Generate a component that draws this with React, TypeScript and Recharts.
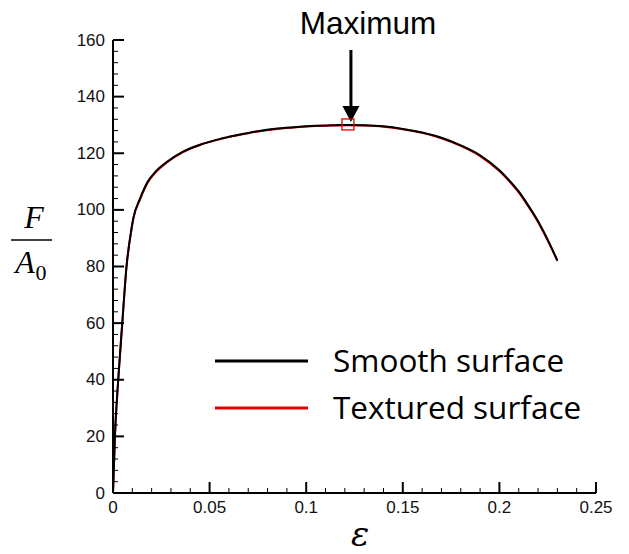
import React from 'react';
import { LineChart, Line, XAxis, YAxis, ReferenceDot } from 'recharts';

const strain = [0, 0.001, 0.0027, 0.0048, 0.007, 0.0095, 0.0105, 0.014, 0.018, 0.022, 0.028, 0.036, 0.045, 0.055, 0.065, 0.075, 0.085, 0.095, 0.105, 0.115, 0.122, 0.13, 0.14, 0.15, 0.16, 0.17, 0.18, 0.19, 0.2, 0.205, 0.21, 0.215, 0.22, 0.225, 0.23];
const stressSmooth = [0, 20, 40, 60, 80, 93, 97, 104, 110, 113.5, 117, 120.5, 123, 125, 126.5, 127.8, 128.7, 129.3, 129.7, 129.9, 130, 129.9, 129.5, 128.6, 127.3, 125.5, 122.8, 119.3, 114, 110.5, 106.5, 101.5, 96, 89.5, 82];
const stressTextured = [0, 20, 40, 60, 80, 92.8, 96.8, 103.7, 109.7, 113.2, 116.8, 120.3, 122.9, 124.9, 126.4, 127.7, 128.6, 129.2, 129.6, 129.8, 129.9, 129.8, 129.4, 128.5, 127.2, 125.3, 122.6, 119.0, 113.7, 110.2, 106.2, 101.2, 95.7, 89.2, 82.2];

const maxPoint = { x: 0.1216, y: 130 };

const xMajor = [0, 0.05, 0.1, 0.15, 0.2, 0.25];
const xMajorLabels = ['0', '0.05', '0.1', '0.15', '0.2', '0.25'];
const yMajor = [0, 20, 40, 60, 80, 100, 120, 140, 160];
const yMajorLabels = ['0', '20', '40', '60', '80', '100', '120', '140', '160'];
const xMinorPerMajor = 5;
const yMinorPerMajor = 5;

const seriesNames = ['Smooth surface', 'Textured surface'];
const seriesColors = ['#000000', '#e00000'];

function subdivide(majors: number[], n: number): number[] {
  const out: number[] = [];
  for (let i = 0; i < majors.length - 1; i++) {
    for (let j = 0; j < n; j++) out.push(majors[i] + ((majors[i + 1] - majors[i]) * j) / n);
  }
  out.push(majors[majors.length - 1]);
  return out;
}

const smoothData = strain.map((x, i) => ({ x, y: stressSmooth[i] }));
const texturedData = strain.map((x, i) => ({ x, y: stressTextured[i] }));

const tickFont = 'Liberation Sans, Arial, sans-serif';

const XTick = (props: any) => {
  const { x, y, payload } = props;
  const idx = xMajor.findIndex((m) => Math.abs(m - payload.value) < 1e-9);
  const major = idx >= 0;
  return (
    <g>
      <line x1={x} x2={x} y1={y} y2={y - (major ? 11 : 5)} stroke="#000" strokeWidth={major ? 2 : 1} />
      {major && (
        <text x={x} y={y + 20} textAnchor="middle" fontSize={17} fontFamily={tickFont} fill="#111">
          {xMajorLabels[idx]}
        </text>
      )}
    </g>
  );
};

const YTick = (props: any) => {
  const { x, y, payload } = props;
  const idx = yMajor.findIndex((m) => Math.abs(m - payload.value) < 1e-9);
  const major = idx >= 0;
  return (
    <g>
      <line x1={x} x2={x + (major ? 11 : 5)} y1={y} y2={y} stroke="#000" strokeWidth={major ? 2 : 1} />
      {major && (
        <text x={x - 8} y={y} textAnchor="end" dominantBaseline="central" fontSize={17} fontFamily={tickFont} fill="#111">
          {yMajorLabels[idx]}
        </text>
      )}
    </g>
  );
};

const MaxMarker = (props: any) => {
  const { cx, cy } = props;
  const ax = cx + 3;
  return (
    <g>
      <line x1={ax} x2={ax} y1={cy - 75} y2={cy - 18} stroke="#000" strokeWidth={3} />
      <polygon points={`${ax - 8.5},${cy - 19} ${ax + 8.5},${cy - 19} ${ax},${cy - 3}`} fill="#000" />
      <rect x={cx - 6} y={cy - 6} width={12} height={11} fill="none" stroke="#e00000" strokeWidth={1.3} />
      <text x={cx + 20} y={cy - 91} textAnchor="middle" fontSize={31.5} fontFamily={tickFont} fill="#000">
        Maximum
      </text>
    </g>
  );
};

export default function App() {
  return (
    <div style={{ position: 'absolute', left: 0, top: 0, width: 629, height: 554, background: '#fff' }}>
      <LineChart width={629} height={554} margin={{ top: 40, right: 33, bottom: 31, left: 53 }}>
        <XAxis
          type="number"
          dataKey="x"
          domain={[0, 0.25]}
          ticks={subdivide(xMajor, xMinorPerMajor)}
          interval={0}
          tick={<XTick />}
          tickSize={0}
          tickMargin={0}
          tickLine={false}
          axisLine={{ stroke: '#000', strokeWidth: 2 }}
          height={30}
          allowDataOverflow
        />
        <YAxis
          type="number"
          dataKey="y"
          domain={[0, 160]}
          ticks={subdivide(yMajor, yMinorPerMajor)}
          interval={0}
          tick={<YTick />}
          tickSize={0}
          tickMargin={0}
          tickLine={false}
          axisLine={{ stroke: '#000', strokeWidth: 2 }}
          width={60}
          allowDataOverflow
        />
        <Line data={texturedData} dataKey="y" type="monotone" stroke={seriesColors[1]} strokeWidth={2} dot={false} isAnimationActive={false} name={seriesNames[1]} />
        <Line data={smoothData} dataKey="y" type="monotone" stroke={seriesColors[0]} strokeWidth={2} dot={false} isAnimationActive={false} name={seriesNames[0]} />
        <ReferenceDot x={maxPoint.x} y={maxPoint.y} shape={<MaxMarker />} ifOverflow="visible" />
      </LineChart>
      <svg width={629} height={554} style={{ position: 'absolute', left: 0, top: 0, pointerEvents: 'none' }}>
        <line x1={215} x2={308} y1={361} y2={361} stroke={seriesColors[0]} strokeWidth={3} />
        <text x={333} y={359} dominantBaseline="central" fontSize={31.5} fontFamily="Open Sans, sans-serif" fill="#000">
          {seriesNames[0]}
        </text>
        <line x1={215} x2={308} y1={408} y2={408} stroke={seriesColors[1]} strokeWidth={3} />
        <text x={333} y={406} dominantBaseline="central" fontSize={31.5} fontFamily="Open Sans, sans-serif" fill="#000">
          {seriesNames[1]}
        </text>
        <text x={34} y={228} textAnchor="middle" fontSize={32} fontStyle="italic" fontFamily="Liberation Serif, serif" fill="#000">F</text>
        <line x1={11} x2={52} y1={240} y2={240} stroke="#000" strokeWidth={1.5} />
        <text x={25} y={273} textAnchor="middle" fontSize={32} fontStyle="italic" fontFamily="Liberation Serif, serif" fill="#000">A</text>
        <text x={41} y={280} textAnchor="middle" fontSize={22} fontFamily="Liberation Serif, serif" fill="#000">0</text>
        <text x={360} y={546} textAnchor="middle" fontSize={34} fontStyle="italic" fontFamily="DejaVu Serif, serif" fill="#000">ε</text>
      </svg>
    </div>
  );
}
